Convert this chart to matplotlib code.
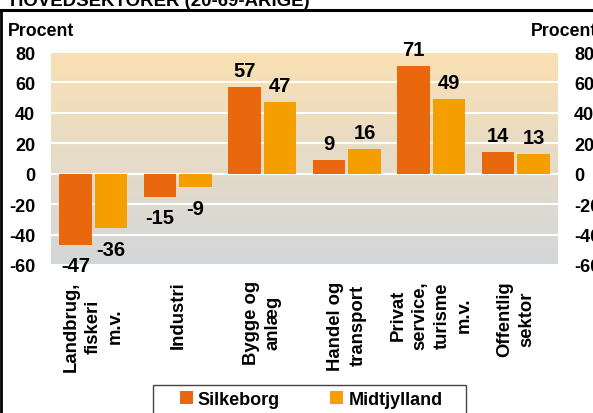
import numpy as np
import matplotlib
matplotlib.use('Agg')
import matplotlib.pyplot as plt
from matplotlib.lines import Line2D
from matplotlib.patches import Rectangle
from matplotlib.colors import LinearSegmentedColormap

plt.rcParams['font.family'] = ['Liberation Sans', 'DejaVu Sans']
plt.rcParams['font.weight'] = 'bold'
plt.rcParams['axes.unicode_minus'] = False

#----- data
categories = ['Landbrug,\nfiskeri\nm.v.', 'Industri', 'Bygge og\nanlæg',
              'Handel og\ntransport', 'Privat\nservice,\nturisme\nm.v.',
              'Offentlig\nsektor']
silkeborg = [-47, -15, 57, 9, 71, 14]
midtjylland = [-36, -9, 47, 16, 49, 13]
series_names = ['Silkeborg', 'Midtjylland']
yticks = [-60, -40, -20, 0, 20, 40, 60, 80]

col_silk = '#EA680D'
col_midt = '#F49E00'

W, H = 593, 414
fig = plt.figure(figsize=(W / 100, H / 100), dpi=100)
ax = fig.add_axes([51 / W, 1 - 266 / H, (558 - 51) / W, (266 - 53) / H])

x = np.arange(len(categories))
ax.set_xlim(-0.5, len(categories) - 0.5)
ax.set_ylim(-60, 80)

# gradient background: peach top -> grey bottom
cmap = LinearSegmentedColormap.from_list(
    'bg', [(0, '#D3D7DA'), (0.45, '#E4DBCA'), (1, '#FAE0B2')])
grad = np.linspace(0, 1, 256).reshape(-1, 1)
ax.imshow(grad, cmap=cmap, origin='lower', aspect='auto',
          extent=[-0.5, len(categories) - 0.5, -60, 80], zorder=0)

ax.set_axisbelow(True)
ax.yaxis.grid(True, color='white', linewidth=1.5)
ax.set_yticks(yticks)

bw = 0.383
off = 0.212
b1 = ax.bar(x - off, silkeborg, bw, color=col_silk, zorder=2, label=series_names[0])
b2 = ax.bar(x + off, midtjylland, bw, color=col_midt, zorder=2, label=series_names[1])

for bars, vals in [(b1, silkeborg), (b2, midtjylland)]:
    for rect, v in zip(bars, vals):
        cx = rect.get_x() + rect.get_width() / 2
        if v >= 0:
            ax.annotate(str(v), (cx, v), xytext=(0, 8), textcoords='offset points',
                        ha='center', va='baseline', fontsize=14.5, fontweight='bold',
                        annotation_clip=False)
        else:
            ax.annotate(str(v), (cx, v), xytext=(0, -8), textcoords='offset points',
                        ha='center', va='top', fontsize=14.5, fontweight='bold',
                        annotation_clip=False)

for s in ax.spines.values():
    s.set_visible(False)

ax.set_xticks(x)
ax.set_xticklabels(categories, rotation=90, ha='center', va='top',
                   multialignment='center', linespacing=1.4,
                   fontsize=13.3, fontweight='bold')
ax.tick_params(axis='x', length=0, pad=11)
ax.tick_params(axis='y', length=0, pad=11.5, labelsize=13,
               right=True, labelright=True)
for lab in ax.get_yticklabels():
    lab.set_fontweight('bold')

# secondary labels
fig.text(8 / W, 1 - 23 / H, 'Procent', fontsize=12.8, fontweight='bold', va='top')
fig.text(531 / W, 1 - 23 / H, 'Procent', fontsize=12.8, fontweight='bold', va='top')

# title, cut off at the top
fig.text(10 / W, 1 - 6 / H, 'HOVEDSEKTORER (20-69-ÅRIGE)', fontsize=13.4,
         fontweight='bold', va='baseline')

# outer frame
fig.add_artist(Line2D([0, 1], [1 - 10.5 / H] * 2, transform=fig.transFigure,
                      color='black', lw=2.2))
fig.add_artist(Line2D([1.3 / W] * 2, [0, 1 - 10.5 / H], transform=fig.transFigure,
                      color='black', lw=2.0))

# legend
fig.add_artist(Rectangle((153 / W, 1 - 417 / H), (466 - 153) / W, 31 / H,
                         transform=fig.transFigure, facecolor='white',
                         edgecolor='#444444', lw=1.0))
fig.legend(handles=[b1, b2], labels=series_names, loc='center',
           bbox_to_anchor=(311 / W, 1 - 400.5 / H), ncol=2, frameon=False,
           handlelength=0.72, handleheight=0.72,
           handletextpad=0.28, columnspacing=2.8, borderaxespad=0,
           prop={'weight': 'bold', 'size': 13})

fig.savefig('out.png', dpi=100)
